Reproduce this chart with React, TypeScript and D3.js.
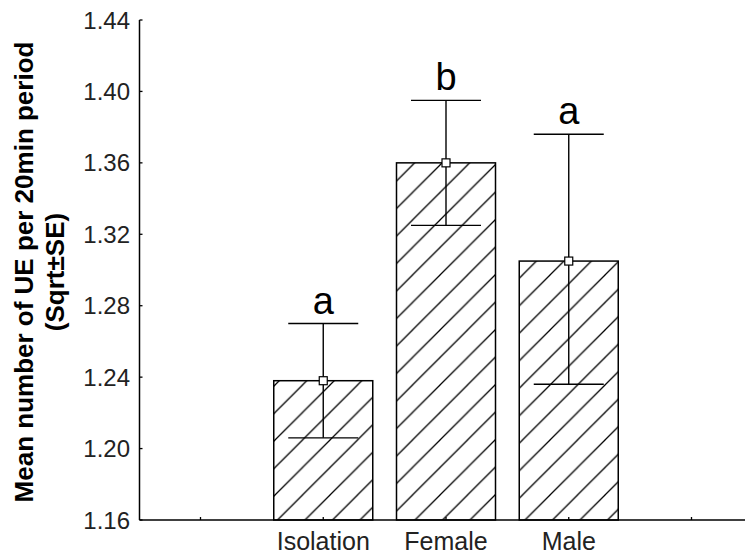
import React from "react";
import * as d3 from "d3";

const categories = ["Isolation", "Female", "Male"];
const means = [1.238, 1.36, 1.305];
const seUpper = [1.27, 1.395, 1.376];
const seLower = [1.206, 1.325, 1.236];
const sigLetters = ["a", "b", "a"];
const yTicks = [1.16, 1.2, 1.24, 1.28, 1.32, 1.36, 1.4, 1.44];
const xSlots = ["_left", ...categories, "_right"];
const yLabelLines = ["Mean number of UE per 20min period", "(Sqrt\u00B1SE)"];

const W = 745;
const H = 556;
const axisX = 139.5;
const axisY = 520;
const font = "'Liberation Sans', Arial, sans-serif";

export default function App() {
  const y = d3.scaleLinear().domain([1.16, 1.44]).range([axisY, 20]);
  const x = d3.scalePoint<string>().domain(xSlots).range([200.5, 691.5]);
  const barW = 99;
  const capW = 70;
  const sq = 8;

  return (
    <svg
      width={W}
      height={H}
      style={{ position: "absolute", left: 0, top: 0, background: "#fff" }}
      fontFamily={font}
    >
      <defs>
        <pattern id="hatch" patternUnits="userSpaceOnUse" width={27.5} height={27.5} x={0} y={0}>
          <path
            d="M-3,30.5 L30.5,-3 M-10,10 L10,-10 M17.5,37.5 L37.5,17.5"
            stroke="#000"
            strokeWidth={1.3}
            fill="none"
          />
        </pattern>
      </defs>
      <rect x={0} y={0} width={W} height={H} fill="#fff" />

      {/* bars */}
      {categories.map((c, i) => {
        const cx = x(c)!;
        return (
          <rect
            key={"bar" + c}
            x={cx - barW / 2}
            y={y(means[i])}
            width={barW}
            height={axisY - y(means[i])}
            fill="url(#hatch)"
            stroke="#000"
            strokeWidth={1.5}
          />
        );
      })}

      {/* error bars */}
      {categories.map((c, i) => {
        const cx = x(c)!;
        return (
          <g key={"err" + c} stroke="#000" strokeWidth={1.4}>
            <line x1={cx} x2={cx} y1={y(seUpper[i])} y2={y(seLower[i])} />
            <line x1={cx - capW / 2} x2={cx + capW / 2} y1={y(seUpper[i])} y2={y(seUpper[i])} />
            <line x1={cx - capW / 2} x2={cx + capW / 2} y1={y(seLower[i])} y2={y(seLower[i])} />
            <rect
              x={cx - sq / 2}
              y={y(means[i]) - sq / 2}
              width={sq}
              height={sq}
              fill="#fff"
              strokeWidth={1.2}
            />
          </g>
        );
      })}

      {/* significance letters */}
      {categories.map((c, i) => (
        <text
          key={"sig" + c}
          x={x(c)!}
          y={y(seUpper[i]) - 10}
          textAnchor="middle"
          fontSize={38}
          fill="#000"
        >
          {sigLetters[i]}
        </text>
      ))}

      {/* axes */}
      <line x1={axisX} x2={axisX} y1={y(1.44)} y2={axisY} stroke="#000" strokeWidth={1.5} />
      <line x1={axisX} x2={W} y1={axisY} y2={axisY} stroke="#000" strokeWidth={1.5} />

      {yTicks.map((t) => (
        <g key={"yt" + t}>
          <line x1={axisX} x2={axisX + 3} y1={y(t)} y2={y(t)} stroke="#000" strokeWidth={1.3} />
          <text
            x={130}
            y={y(t)}
            dy="0.36em"
            textAnchor="end"
            fontSize={24}
            fill="#222"
          >
            {t.toFixed(2)}
          </text>
        </g>
      ))}

      {xSlots.map((s) => (
        <line
          key={"xt" + s}
          x1={x(s)!}
          x2={x(s)!}
          y1={axisY}
          y2={axisY - 3}
          stroke="#000"
          strokeWidth={1.3}
        />
      ))}

      {categories.map((c) => (
        <text
          key={"xl" + c}
          x={x(c)!}
          y={550}
          textAnchor="middle"
          fontSize={25}
          fill="#222"
        >
          {c}
        </text>
      ))}

      {/* y label */}
      <g transform="translate(0,272) rotate(-90)">
        <text x={0} y={33} textAnchor="middle" fontSize={26} fontWeight="bold" fill="#000">
          {yLabelLines[0]}
        </text>
        <text x={0} y={64} textAnchor="middle" fontSize={26} fontWeight="bold" fill="#000">
          {yLabelLines[1]}
        </text>
      </g>
    </svg>
  );
}
